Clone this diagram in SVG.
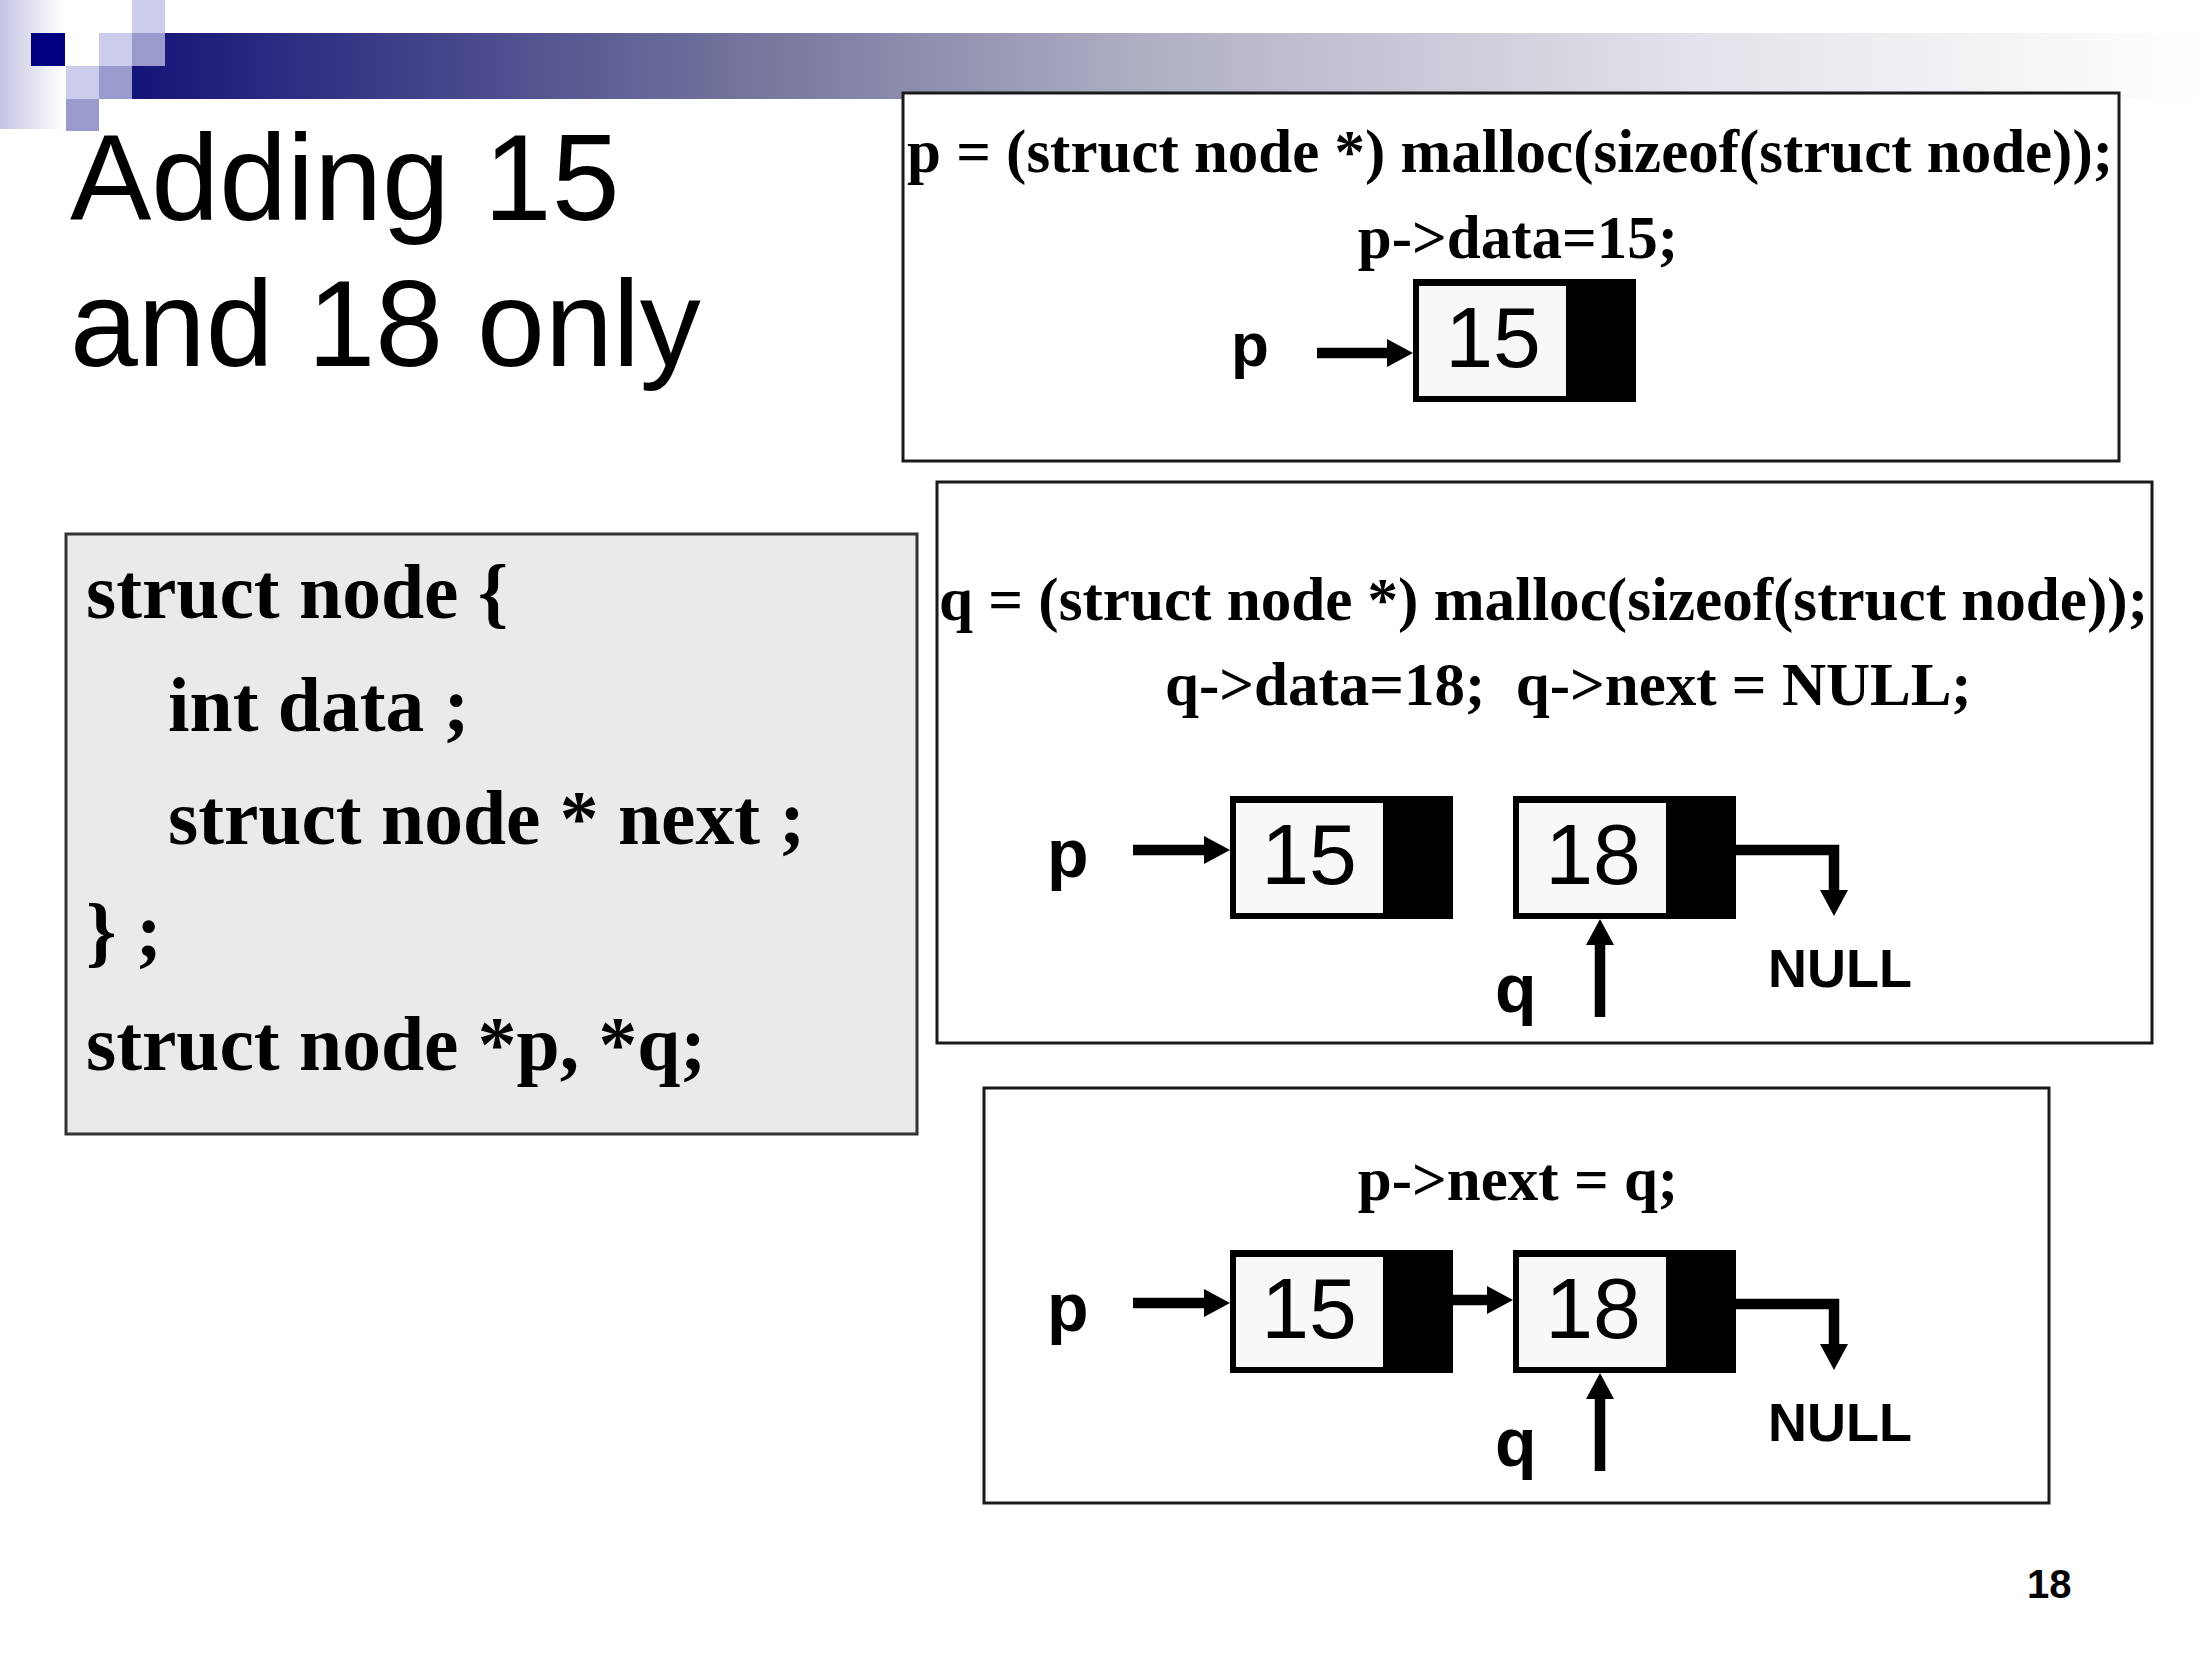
<svg xmlns="http://www.w3.org/2000/svg" width="2205" height="1653" viewBox="0 0 2205 1653">
<defs>
<linearGradient id="bar" x1="0" y1="0" x2="1" y2="0">
<stop offset="0" stop-color="#141478"/>
<stop offset="0.3" stop-color="#76769e"/>
<stop offset="0.5" stop-color="#b2b2c6"/>
<stop offset="0.75" stop-color="#e2e2ea"/>
<stop offset="1" stop-color="#ffffff"/>
</linearGradient>
<linearGradient id="strip" x1="0" y1="0" x2="1" y2="0">
<stop offset="0" stop-color="#c4c4e4"/>
<stop offset="1" stop-color="#ffffff"/>
</linearGradient>
<path id="headR" d="M-26,-14 L0,0 L-26,14 Z"/>
<path id="headD" d="M-14,-26 L0,0 L14,-26 Z"/>
<path id="headU" d="M-14,26 L0,0 L14,26 Z"/>
<style>
.frame{fill:#fff;stroke:#1a1a1a;stroke-width:3}
.code{font-family:"Liberation Serif","Times New Roman",serif;font-weight:bold;font-size:61px;fill:#000}
.scode{font-family:"Liberation Serif","Times New Roman",serif;font-weight:bold;font-size:77.5px;fill:#000}
.lbl{font-family:"Liberation Sans",Arial,sans-serif;font-weight:bold;font-size:68px;fill:#000}
.nul{font-family:"Liberation Sans",Arial,sans-serif;font-weight:bold;font-size:54px;fill:#000}
.num{font-family:"Liberation Sans",Arial,sans-serif;font-size:86px;fill:#000;text-anchor:middle}
.title{font-family:"Liberation Sans",Arial,sans-serif;font-size:122px;fill:#000}
.outer{fill:#000}
.cell{fill:#f8f8f8}
.arr{stroke:#000;stroke-width:10.5;fill:none}
.head{fill:#000}
</style>
</defs>

<g id="header">
<rect x="0" y="0" width="64" height="129" fill="url(#strip)"/>
<rect x="132" y="33" width="2073" height="66" fill="url(#bar)"/>
<rect x="31" y="33" width="34" height="33" fill="#000080"/>
<rect x="65" y="33" width="34" height="33" fill="#ffffff"/>
<rect x="99" y="33" width="33" height="33" fill="#ccccec"/>
<rect x="132" y="0" width="33" height="33" fill="#ccccec"/>
<rect x="132" y="33" width="33" height="33" fill="#9a9acc"/>
<rect x="66" y="66" width="33" height="33" fill="#ccccec"/>
<rect x="99" y="66" width="33" height="33" fill="#9a9acc"/>
<rect x="66" y="99" width="33" height="32" fill="#9a9acc"/>
</g>

<g id="title">
<text class="title" x="70" y="220">Adding 15</text>
<text class="title" x="70" y="366">and 18 only</text>
</g>

<g id="struct-box">
<rect x="66" y="534" width="851" height="600" fill="#eaeaea" stroke="#333" stroke-width="3"/>
<text class="scode" x="86" y="618">struct node {</text>
<text class="scode" x="168" y="731">int data ;</text>
<text class="scode" x="168" y="844">struct node * next ;</text>
<text class="scode" x="86" y="957">} ;</text>
<text class="scode" x="86" y="1070">struct node *p, *q;</text>
</g>

<g id="box1">
<rect class="frame" x="903" y="93" width="1216" height="368"/>
<text class="code" x="907" y="172" textLength="1206" lengthAdjust="spacingAndGlyphs">p = (struct node *) malloc(sizeof(struct node));</text>
<text class="code" x="1518" y="258" text-anchor="middle">p-&gt;data=15;</text>
<text class="lbl" x="1231" y="366" style="font-size:62px">p</text>
</g>
<g id="box1-node15">
<rect class="outer" x="1413" y="279" width="223" height="123"/>
<rect class="cell" x="1419" y="286" width="147" height="110"/>
<text class="num" x="1493" y="367">15</text>
</g>

<g id="box2">
<rect class="frame" x="937" y="482" width="1215" height="561"/>
<text class="code" x="939" y="620" textLength="1209" lengthAdjust="spacingAndGlyphs">q = (struct node *) malloc(sizeof(struct node));</text>
<text class="code" x="1165" y="705" xml:space="preserve">q-&gt;data=18;  q-&gt;next = NULL;</text>
<text class="lbl" x="1047" y="877">p</text>
<text class="lbl" x="1495" y="1012">q</text>
<text class="nul" x="1768" y="987">NULL</text>
</g>
<g id="box2-node15">
<rect class="outer" x="1230" y="796" width="223" height="123"/>
<rect class="cell" x="1236" y="803" width="147" height="110"/>
<text class="num" x="1309" y="884">15</text>
</g>
<g id="box2-node18">
<rect class="outer" x="1513" y="796" width="223" height="123"/>
<rect class="cell" x="1519" y="803" width="147" height="110"/>
<text class="num" x="1593" y="884">18</text>
</g>

<g id="box3">
<rect class="frame" x="984" y="1088" width="1065" height="415"/>
<text class="code" x="1518" y="1200" text-anchor="middle">p-&gt;next = q;</text>
<text class="lbl" x="1047" y="1331">p</text>
<text class="lbl" x="1495" y="1466">q</text>
<text class="nul" x="1768" y="1441">NULL</text>
</g>
<g id="box3-node15">
<rect class="outer" x="1230" y="1250" width="223" height="123"/>
<rect class="cell" x="1236" y="1257" width="147" height="110"/>
<text class="num" x="1309" y="1338">15</text>
</g>
<g id="box3-node18">
<rect class="outer" x="1513" y="1250" width="223" height="123"/>
<rect class="cell" x="1519" y="1257" width="147" height="110"/>
<text class="num" x="1593" y="1338">18</text>
</g>

<g id="connectors">
<line class="arr" x1="1317" y1="353" x2="1390" y2="353"/>
<use href="#headR" class="head" x="1413" y="353"/>
<line class="arr" x1="1133" y1="850" x2="1207" y2="850"/>
<use href="#headR" class="head" x="1230" y="850"/>
<path class="arr" d="M1736,850 H1834 V893" stroke-linejoin="miter"/>
<use href="#headD" class="head" x="1834" y="916"/>
<line class="arr" x1="1600" y1="1017" x2="1600" y2="942"/>
<use href="#headU" class="head" x="1600" y="919"/>
<line class="arr" x1="1133" y1="1303" x2="1207" y2="1303"/>
<use href="#headR" class="head" x="1230" y="1303"/>
<line class="arr" x1="1453" y1="1300" x2="1490" y2="1300"/>
<use href="#headR" class="head" x="1513" y="1300"/>
<path class="arr" d="M1736,1304 H1834 V1347" stroke-linejoin="miter"/>
<use href="#headD" class="head" x="1834" y="1370"/>
<line class="arr" x1="1600" y1="1471" x2="1600" y2="1396"/>
<use href="#headU" class="head" x="1600" y="1373"/>
</g>

<g id="page-number">
<text x="2027" y="1598" style="font-family:'Liberation Sans',Arial,sans-serif;font-weight:bold;font-size:40px">18</text>
</g>
</svg>
